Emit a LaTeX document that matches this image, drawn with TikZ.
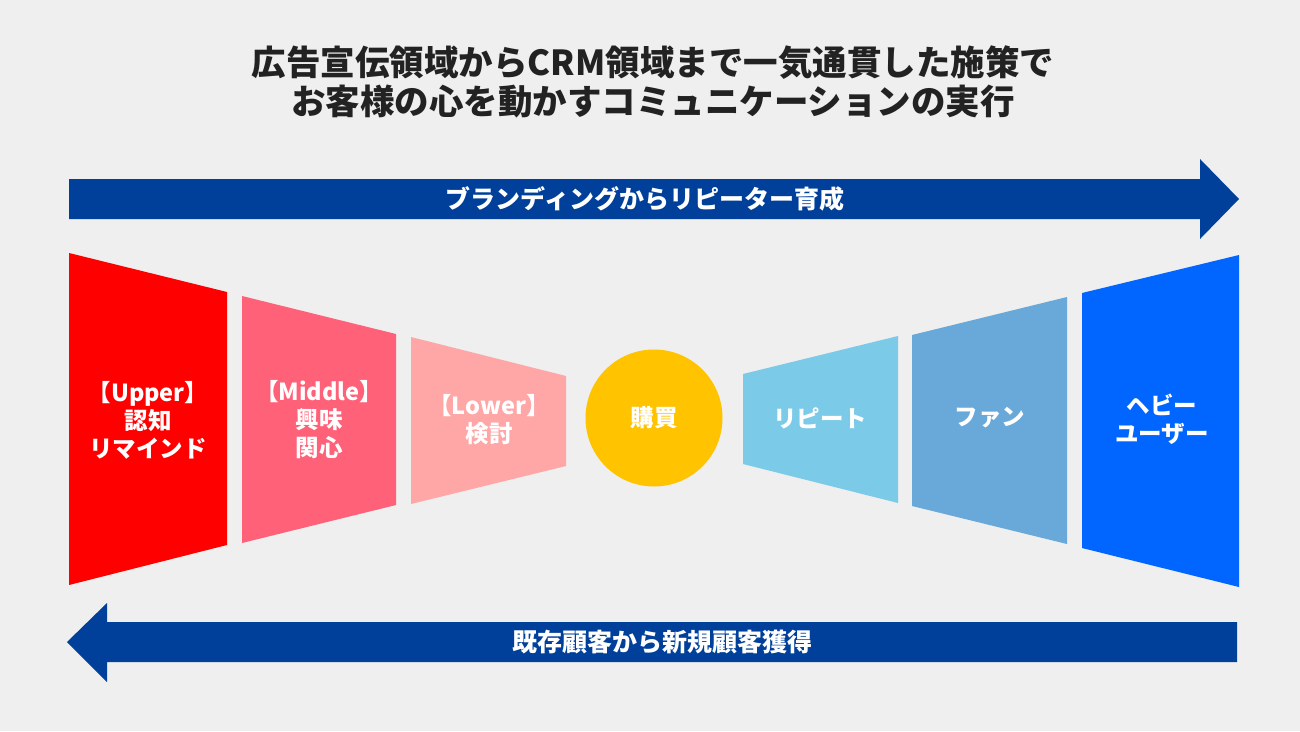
\documentclass[tikz,border=0pt]{standalone}
\usepackage{fontspec}
\setmainfont{Noto Sans CJK JP}
\definecolor{bgcol}{HTML}{EFEFEF}
\definecolor{titlecol}{HTML}{222222}
\definecolor{barblue}{HTML}{00409A}
\definecolor{uppercol}{HTML}{FF0000}
\definecolor{middlecol}{HTML}{FF6178}
\definecolor{lowercol}{HTML}{FFA6A6}
\definecolor{buycol}{HTML}{FFC300}
\definecolor{repeatcol}{HTML}{7BCAE8}
\definecolor{fancol}{HTML}{68A9DA}
\definecolor{heavycol}{HTML}{0066FF}
\tikzset{
  titletext/.style={text=titlecol, font=\bfseries\fontsize{34.5}{39}\selectfont, align=center, inner sep=0pt},
  bartext/.style={text=white, font=\bfseries\fontsize{25}{28}\selectfont, inner sep=0pt},
  lbl/.style={text=white, font=\bfseries\fontsize{23.5}{28}\selectfont, align=center, inner sep=0pt},
}

\begin{document}
\begin{tikzpicture}[x=1pt,y=-1pt]
  \fill[bgcol] (0,0) rectangle (1300,731);
  \useasboundingbox (0,0) rectangle (1300,731);

  \node[titletext] (title) at (653,82) {広告宣伝領域からCRM領域まで一気通貫した施策で\\お客様の心を動かすコミュニケーションの実行};

  \fill[barblue] (69,179) -- (1200,179) -- (1200,159) -- (1239,199) -- (1200,239) -- (1200,219) -- (69,219) -- cycle;
  \node[bartext] (brand) at (645,199) {ブランディングからリピーター育成};
  \fill[barblue] (1237,622) -- (107,622) -- (107,603) -- (67,642) -- (107,682) -- (107,662) -- (1237,662) -- cycle;
  \node[bartext] (customer) at (662,642) {既存顧客から新規顧客獲得};

  \fill[uppercol] (69,253) -- (227,292) -- (227,545) -- (69,585) -- cycle;
  \fill[middlecol] (242,296) -- (396,334) -- (396,505) -- (242,543) -- cycle;
  \fill[lowercol] (411,337) -- (566,376) -- (566,466) -- (411,504) -- cycle;
  \fill[repeatcol] (743,374) -- (898,336) -- (898,503) -- (743,464) -- cycle;
  \fill[fancol] (912,335) -- (1067,297) -- (1067,544) -- (912,506) -- cycle;
  \fill[heavycol] (1082,293) -- (1239,255) -- (1239,587) -- (1082,548) -- cycle;

  \node[lbl] (upper) at (148,420) {【Upper】\\認知\\リマインド};
  \node[lbl] (middle) at (319,420) {【Middle】\\興味\\関心};
  \node[lbl] (lower) at (489,420) {【Lower】\\検討};
  \node[circle, fill=buycol, minimum size=137pt, lbl] (buy) at (654,418) {購買};
  \node[lbl] (repeat) at (820,418) {リピート};
  \node[lbl] (fan) at (990,418) {ファン};
  \node[lbl] (heavy) at (1162,419) {ヘビー\\ユーザー};
\end{tikzpicture}
\end{document}
